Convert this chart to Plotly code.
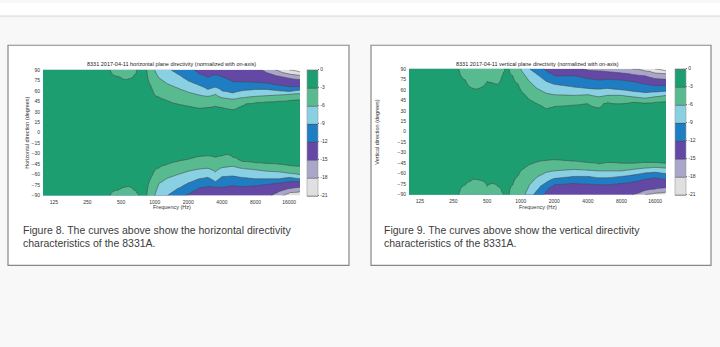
import numpy as np
import plotly.graph_objects as go

W, H = 720, 347
N = None

# Contour levels (dB) and band colours
LEVELS = [-3, -6, -9, -12, -15, -18, -21]
TICK_VALS = [0, -3, -6, -9, -12, -15, -18, -21]
TICK_TEXT = ["0", "-3", "-6", "-9", "-12", "-15", "-18", "-21"]
BAND_COLORS = ["#ffffff", "#c8c8c8", "#9d99c9", "#5a3aa0", "#1f7dc4",
               "#8cd2ee", "#70c69b", "#1c9e70"]  # <-21 ... 0..-3

X_TICKS = [125, 250, 500, 1000, 2000, 4000, 8000, 16000]
Y_TICKS = list(range(90, -91, -15))

# Readings: (frequency Hz, angle deg where the level is reached); None = not reached
H_UP = [
    [(100, N), (380, N), (400, 90), (480, 80), (560, 76), (640, 80), (690, 90), (720, N), (820, N), (850, 90), (920, 68),
     (1000, 54), (1200, 48), (1500, 42), (2000, 38), (2500, 35), (3000, 36), (3500, 38), (4000, 36), (5000, 33),
     (5600, 36), (6500, 41), (8000, 43), (10000, 44), (13000, 45), (16000, 46), (20000, 47)],
    [(100, N), (950, N), (1000, 90), (1100, 78), (1300, 70), (1600, 64), (2000, 58), (2500, 54), (3000, 52), (3500, 55),
     (4000, 50), (5000, 48), (6000, 50), (8000, 52), (10000, 53), (13000, 54), (16000, 55), (20000, 56)],
    [(100, N), (1350, N), (1400, 90), (1600, 84), (2000, 74), (2500, 68), (3000, 62), (3500, 65), (4000, 60), (5000, 57),
     (6000, 60), (8000, 62), (10000, 62), (13000, 60), (16000, 59), (20000, 61)],
    [(100, N), (2150, N), (2250, 90), (2500, 84), (3000, 79), (3500, 83), (4000, 80), (5000, 73), (6000, 73), (8000, 72),
     (10000, 71), (13000, 68), (16000, 66), (20000, 66)],
    [(100, N), (8500, N), (9000, 90), (10000, 86), (12000, 82), (16000, 78), (20000, 76)],
    [(100, N), (11500, N), (12000, 90), (14000, 86), (16000, 84), (20000, 82)],
    [(100, N), (15000, N), (16000, 90), (20000, 87)],
]
H_LO = [
    [(100, N), (380, N), (400, 90), (500, 80), (580, 77), (650, 82), (720, 90), (740, N), (820, N), (850, 90), (920, 66),
     (1000, 54), (1200, 47), (1500, 42), (2000, 38), (2500, 34), (3000, 33), (3500, 35), (4000, 33), (4500, 31),
     (5000, 35), (6000, 41), (8000, 43), (10000, 44), (13000, 45), (16000, 47), (20000, 48)],
    [(100, N), (980, N), (1000, 90), (1100, 72), (1300, 65), (1600, 60), (2000, 55), (2500, 52), (3000, 51), (3500, 56),
     (4000, 50), (5000, 48), (6000, 51), (8000, 53), (10000, 55), (13000, 56), (16000, 58), (20000, 60)],
    [(100, N), (1250, N), (1300, 90), (1600, 80), (2000, 72), (2500, 66), (3000, 64), (3500, 70), (4000, 63), (5000, 62),
     (6000, 64), (8000, 66), (10000, 66), (13000, 66), (16000, 64), (20000, 66)],
    [(100, N), (1800, N), (1900, 90), (2200, 84), (2500, 79), (3000, 77), (4000, 78), (5000, 76), (6000, 77), (8000, 76),
     (10000, 74), (13000, 72), (16000, 70), (20000, 70)],
    [(100, N), (10500, N), (11000, 90), (13000, 84), (16000, 80), (20000, 78)],
    [(100, N), (13500, N), (14000, 90), (16000, 86), (20000, 84)],
    [(100, N), (20000, N)],
]
V_UP = [
    [(100, N), (270, N), (280, 90), (320, 74), (360, 63), (400, 61), (450, 64), (500, 72), (560, 70), (620, 68), (680, 80),
     (720, 90), (740, N), (770, N), (790, 90), (850, 80), (950, 68), (1000, 60), (1200, 46), (1500, 38), (1700, 33),
     (2000, 36), (2500, 37), (3000, 38), (4000, 40), (5000, 34), (5500, 40), (6000, 42), (7000, 40), (8000, 40),
     (10000, 42), (13000, 41), (16000, 42), (20000, 43)],
    [(100, N), (980, N), (1000, 90), (1100, 80), (1200, 72), (1400, 62), (1700, 55), (2000, 53), (3000, 52), (4000, 53),
     (5000, 50), (6000, 52), (8000, 52), (10000, 50), (13000, 48), (16000, 50), (20000, 52)],
    [(100, N), (1150, N), (1200, 90), (1400, 82), (1700, 72), (2000, 68), (3000, 64), (4000, 62), (5000, 61), (6000, 62),
     (8000, 60), (10000, 58), (13000, 56), (16000, 57), (20000, 58)],
    [(100, N), (1550, N), (1600, 90), (1800, 84), (2000, 80), (2500, 80), (3000, 80), (4000, 76), (5000, 74), (6000, 75),
     (8000, 74), (10000, 72), (13000, 68), (16000, 66), (20000, 66)],
    [(100, N), (3400, N), (3500, 90), (4000, 88), (5000, 87), (6000, 86), (8000, 84), (10000, 82), (13000, 80),
     (16000, 76), (20000, 75)],
    [(100, N), (9500, N), (10000, 90), (13000, 87), (16000, 84), (20000, 83)],
    [(100, N), (15000, N), (16000, 90), (20000, 87)],
]
V_LO = [
    [(100, N), (270, N), (280, 90), (320, 76), (380, 68), (450, 70), (500, 78), (560, 74), (620, 78), (700, 90), (720, N),
     (770, N), (790, 90), (850, 76), (950, 63), (1000, 56), (1200, 47), (1500, 42), (2000, 40), (3000, 42), (4000, 44),
     (5000, 46), (6000, 44), (8000, 45), (10000, 45), (13000, 44), (16000, 44), (20000, 45)],
    [(100, N), (1080, N), (1100, 90), (1200, 76), (1400, 65), (1700, 58), (2000, 56), (3000, 54), (4000, 55), (5000, 56),
     (6000, 56), (8000, 56), (10000, 54), (13000, 52), (16000, 51), (20000, 52)],
    [(100, N), (1250, N), (1300, 90), (1500, 78), (1800, 70), (2000, 67), (3000, 64), (4000, 64), (5000, 66), (6000, 66),
     (8000, 64), (10000, 62), (13000, 59), (16000, 58), (20000, 60)],
    [(100, N), (1550, N), (1600, 90), (1800, 80), (2000, 76), (3000, 74), (4000, 75), (5000, 76), (6000, 76), (8000, 74),
     (10000, 72), (13000, 68), (16000, 66), (20000, 68)],
    [(100, N), (9500, N), (10000, 90), (13000, 84), (16000, 82), (20000, 80)],
    [(100, N), (12500, N), (13000, 90), (16000, 88), (20000, 86)],
    [(100, N), (20000, N)],
]

TITLE_H = "8331 2017-04-11 horizontal plane directivity (normalized with on-axis)"
TITLE_V = "8331 2017-04-11 vertical plane directivity (normalized with on-axis)"
YLAB_H = "Horizontal direction (degrees)"
YLAB_V = "Vertical direction (degrees)"
XLAB = "Frequency (Hz)"
CAP_H = ["Figure 8. The curves above show the horizontal directivity", "characteristics of the 8331A."]
CAP_V = ["Figure 9. The curves above show the vertical directivity", "characteristics of the 8331A."]


def boundaries(readings, freqs):
    out = np.zeros((len(LEVELS), len(freqs)))
    lf = np.log(freqs)
    for k, rd in enumerate(readings):
        fx = np.log([p[0] for p in rd])
        ay = np.array([p[1] if p[1] is not None else 90 + 4 * (k + 1) for p in rd], float)
        out[k] = np.interp(lf, fx, ay)
    for k in range(1, len(LEVELS)):
        out[k] = np.maximum(out[k], out[k - 1] + 0.5)
    return out


def build_grid(up, lo):
    fset = sorted({p[0] for rd in up + lo for p in rd})
    freqs = np.array(fset, float)
    ang = np.arange(-90, 90.5, 1.0)
    bu = boundaries(up, freqs)
    bl = boundaries(lo, freqs)
    z = np.zeros((len(ang), len(freqs)))
    lv = [0] + LEVELS + [LEVELS[-1] - 3]
    for j in range(len(freqs)):
        xu = [0] + list(bu[:, j]) + [bu[-1, j] + 10]
        xl = [0] + list(bl[:, j]) + [bl[-1, j] + 10]
        for i, a in enumerate(ang):
            if a >= 0:
                z[i, j] = np.interp(a, xu, lv)
            else:
                z[i, j] = np.interp(-a, xl, lv)
    return freqs, ang, z


def px(x):
    return x / W


def py(y):
    return 1 - y / H


cs = [[i / 8, c] for i, c in enumerate(BAND_COLORS)] + [[1.0, BAND_COLORS[-1]]]
cs = [[0.0, BAND_COLORS[0]]] + [[(i) / 8 + 1e-6 if i else 0.0, c] for i, c in enumerate(BAND_COLORS)][1:]
colorscale = []
for i, c in enumerate(BAND_COLORS):
    colorscale.append([i / 8, c])
colorscale.append([1.0, BAND_COLORS[-1]])

FONT = "Liberation Sans, Arial, sans-serif"
fig = go.Figure()

panels = [
    dict(up=H_UP, lo=H_LO, xa="x", ya="y", x0=43, x1=300, y0=68, y1=196, cb=307, title=TITLE_H, ylab=YLAB_H,
         ylx=27, box=(8, 349), cap=CAP_H, capx=21),
    dict(up=V_UP, lo=V_LO, xa="x2", ya="y2", x0=409, x1=666, y0=67, y1=195, cb=675, title=TITLE_V, ylab=YLAB_V,
         ylx=377, box=(371, 711), cap=CAP_V, capx=382),
]

shapes = [
    dict(type="rect", xref="paper", yref="paper", x0=0, x1=1, y0=py(13), y1=1, fillcolor="white", line_width=0,
         layer="below"),
    dict(type="line", xref="paper", yref="paper", x0=0, x1=1, y0=py(13.5), y1=py(13.5),
         line=dict(color="#e6e6e6", width=2), layer="below"),
]
annotations = []

for k, p in enumerate(panels):
    freqs, ang, z = build_grid(p["up"], p["lo"])
    fig.add_trace(go.Contour(
        x=freqs, y=ang, z=z, xaxis=p["xa"], yaxis=p["ya"],
        colorscale=colorscale, zmin=-21, zmax=0,
        contours=dict(start=-21, end=0, size=3, coloring="fill"),
        line=dict(color="#4a4a4a", width=0.6, smoothing=0.6),
        hoverinfo="skip",
        colorbar=dict(x=px(p["cb"]), xanchor="left", y=py((p["y0"] + p["y1"]) / 2), yanchor="middle",
                      len=(p["y1"] - p["y0"]) / H, lenmode="fraction", thickness=11, thicknessmode="pixels",
                      xpad=0, ypad=0, outlinewidth=0.6, outlinecolor="#999",
                      tickvals=TICK_VALS, ticktext=TICK_TEXT, ticks="outside", ticklen=1.5, tickcolor="#666",
                      tickfont=dict(size=5, color="#333", family=FONT)),
    ))
    sfx = "" if k == 0 else "2"
    fig.layout["xaxis" + sfx] = dict(
        domain=[px(p["x0"]), px(p["x1"])], type="log", range=[np.log10(100), np.log10(20000)],
        tickvals=X_TICKS, ticktext=[str(v) for v in X_TICKS], tickfont=dict(size=5, color="#333", family=FONT),
        showgrid=False, zeroline=False, showline=False, ticks="", anchor="y" + sfx, ticklabelstandoff=2)
    fig.layout["yaxis" + sfx] = dict(
        domain=[py(p["y1"]), py(p["y0"])], range=[-90, 90], tickvals=Y_TICKS,
        tickfont=dict(size=5, color="#333", family=FONT), showgrid=False, zeroline=False, showline=False,
        ticks="", anchor="x" + sfx, ticklabelstandoff=2)
    bx0, bx1 = p["box"]
    shapes.append(dict(type="rect", xref="paper", yref="paper", x0=px(bx0), x1=px(bx1), y0=py(267), y1=py(43),
                       fillcolor="white", line=dict(color="#888", width=1.2), layer="below"))
    cx = px((p["x0"] + p["x1"]) / 2)
    annotations += [
        dict(text=p["title"], x=cx, y=py(62), xref="paper", yref="paper", showarrow=False, xanchor="center",
             yanchor="middle", font=dict(size=5.5, color="#222", family=FONT)),
        dict(text=XLAB, x=cx, y=py(208), xref="paper", yref="paper", showarrow=False, xanchor="center",
             yanchor="middle", font=dict(size=5.5, color="#333", family=FONT)),
        dict(text=p["ylab"], x=px(p["ylx"]), y=py((p["y0"] + p["y1"]) / 2), xref="paper", yref="paper",
             showarrow=False, textangle=-90, xanchor="center", yanchor="middle",
             font=dict(size=5.5, color="#333", family=FONT)),
        dict(text=p["cap"][0], x=px(p["capx"]), y=py(231), xref="paper", yref="paper", showarrow=False,
             xanchor="left", yanchor="middle", font=dict(size=10.5, color="#3c3c3c", family=FONT)),
        dict(text=p["cap"][1], x=px(p["capx"]), y=py(244.5), xref="paper", yref="paper", showarrow=False,
             xanchor="left", yanchor="middle", font=dict(size=10.5, color="#3c3c3c", family=FONT)),
    ]

fig.update_layout(
    width=W, height=H, margin=dict(l=0, r=0, t=0, b=0),
    paper_bgcolor="#f8f8f8", plot_bgcolor="rgba(0,0,0,0)",
    shapes=shapes, annotations=annotations, showlegend=False,
)
fig.write_html("out.html")
